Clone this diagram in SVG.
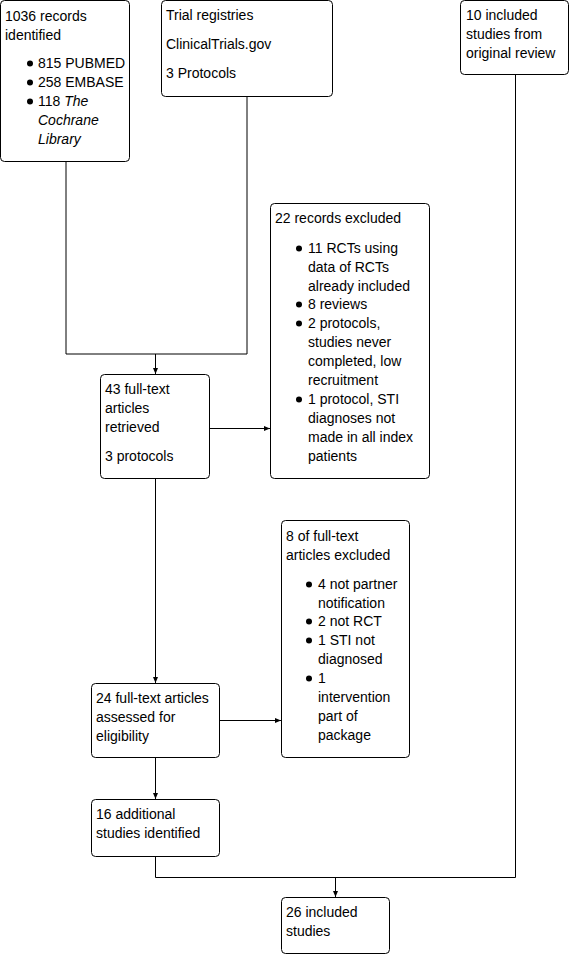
<svg xmlns="http://www.w3.org/2000/svg" width="570" height="955" viewBox="0 0 570 955">
<defs>
<style>
.box{fill:#fff;stroke:#000;stroke-width:1}
text{font-family:"Liberation Sans",Arial,sans-serif;font-size:14px;fill:#000}
.it{font-style:italic}
.ln{fill:none;stroke:#000;stroke-width:1}
.bul{fill:#000}
</style>
<marker id="arr" markerWidth="6" markerHeight="6" refX="6" refY="3" orient="auto" markerUnits="userSpaceOnUse">
<path d="M0,0.5 L6,3 L0,5.5 z" fill="#000"/>
</marker>
</defs>
<rect width="570" height="955" fill="#fff"/>

<g id="connectors">
<polyline class="ln" points="66,162 66,354 247,354 247,97"/>
<line class="ln" x1="155.5" y1="354" x2="155.5" y2="374" marker-end="url(#arr)"/>
<line class="ln" x1="210" y1="428.5" x2="270" y2="428.5" marker-end="url(#arr)"/>
<line class="ln" x1="155.5" y1="479" x2="155.5" y2="683" marker-end="url(#arr)"/>
<line class="ln" x1="219" y1="720.5" x2="281" y2="720.5" marker-end="url(#arr)"/>
<line class="ln" x1="155.5" y1="758" x2="155.5" y2="799" marker-end="url(#arr)"/>
<polyline class="ln" points="155.5,857 155.5,877.5 515.5,877.5 515.5,75"/>
<line class="ln" x1="335.5" y1="877.5" x2="335.5" y2="897" marker-end="url(#arr)"/>
</g>

<g id="records">
<rect class="box" x="0.5" y="0.5" width="129" height="161" rx="4"/>
<text x="5" y="21">1036 records</text>
<text x="5" y="40">identified</text>
<circle class="bul" cx="30" cy="63.5" r="3"/>
<text x="38" y="68">815 PUBMED</text>
<circle class="bul" cx="30" cy="82.5" r="3"/>
<text x="38" y="87">258 EMBASE</text>
<circle class="bul" cx="30" cy="101.5" r="3"/>
<text x="38" y="106">118 <tspan class="it">The</tspan></text>
<text x="38" y="125" class="it">Cochrane</text>
<text x="38" y="144" class="it">Library</text>
</g>

<g id="registries">
<rect class="box" x="161.5" y="0.5" width="171" height="96" rx="4"/>
<text x="166" y="20">Trial registries</text>
<text x="166" y="49">ClinicalTrials.gov</text>
<text x="166" y="78">3 Protocols</text>
</g>

<g id="original">
<rect class="box" x="460.5" y="0.5" width="108" height="74" rx="4"/>
<text x="466" y="20">10 included</text>
<text x="466" y="39">studies from</text>
<text x="466" y="58">original review</text>
</g>

<g id="retrieved">
<rect class="box" x="100.5" y="374.5" width="109" height="104" rx="4"/>
<text x="105" y="394">43 full-text</text>
<text x="105" y="413">articles</text>
<text x="105" y="432">retrieved</text>
<text x="105" y="461">3 protocols</text>
</g>

<g id="excluded22">
<rect class="box" x="270.5" y="203.5" width="159" height="275" rx="4"/>
<text x="275" y="223">22 records excluded</text>
<circle class="bul" cx="299" cy="248.5" r="3"/>
<text x="308" y="253">11 RCTs using</text>
<text x="308" y="272">data of RCTs</text>
<text x="308" y="291">already included</text>
<circle class="bul" cx="299" cy="304.5" r="3"/>
<text x="308" y="309">8 reviews</text>
<circle class="bul" cx="299" cy="323.5" r="3"/>
<text x="308" y="328">2 protocols,</text>
<text x="308" y="347">studies never</text>
<text x="308" y="366">completed, low</text>
<text x="308" y="385">recruitment</text>
<circle class="bul" cx="299" cy="399.5" r="3"/>
<text x="308" y="404">1 protocol, STI</text>
<text x="308" y="423">diagnoses not</text>
<text x="308" y="442">made in all index</text>
<text x="308" y="461">patients</text>
</g>

<g id="excluded8">
<rect class="box" x="281.5" y="520.5" width="128" height="237" rx="4"/>
<text x="286" y="541">8 of full-text</text>
<text x="286" y="560">articles excluded</text>
<circle class="bul" cx="309" cy="584.5" r="3"/>
<text x="318" y="589">4 not partner</text>
<text x="318" y="608">notification</text>
<circle class="bul" cx="309" cy="621.5" r="3"/>
<text x="318" y="626">2 not RCT</text>
<circle class="bul" cx="309" cy="640.5" r="3"/>
<text x="318" y="645">1 STI not</text>
<text x="318" y="664">diagnosed</text>
<circle class="bul" cx="309" cy="678.5" r="3"/>
<text x="318" y="683">1</text>
<text x="318" y="702">intervention</text>
<text x="318" y="721">part of</text>
<text x="318" y="740">package</text>
</g>

<g id="assessed">
<rect class="box" x="91.5" y="683.5" width="128" height="74" rx="4"/>
<text x="96" y="703">24 full-text articles</text>
<text x="96" y="722">assessed for</text>
<text x="96" y="741">eligibility</text>
</g>

<g id="additional">
<rect class="box" x="91.5" y="799.5" width="128" height="57" rx="4"/>
<text x="96" y="819">16 additional</text>
<text x="96" y="838">studies identified</text>
</g>

<g id="included">
<rect class="box" x="281.5" y="897.5" width="108" height="56" rx="4"/>
<text x="286" y="917">26 included</text>
<text x="286" y="936">studies</text>
</g>
</svg>
